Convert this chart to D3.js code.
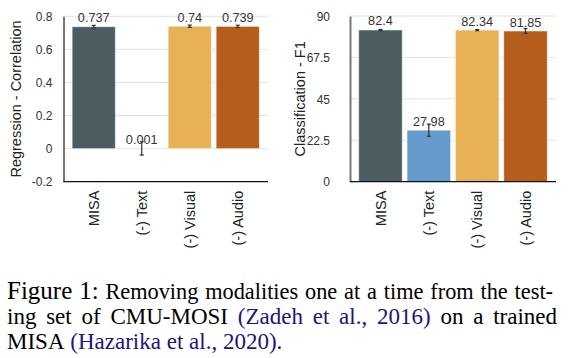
<!DOCTYPE html>
<html><head><meta charset="utf-8">
<script src="https://cdn.jsdelivr.net/npm/d3@7"></script>
<style>body{margin:0;background:#fff}svg{display:block}</style>
</head><body>
<svg id="c" width="569" height="358"></svg>
<script>
const categories = ["MISA", "(-) Text", "(-) Visual", "(-) Audio"];
const barColors = ["#4b5d61", "#6699cc", "#e9b156", "#b55d1b"];
const regValues = [0.737, 0.001, 0.74, 0.739];
const regLabels = ["0.737", "0.001", "0.74", "0.739"];
const regErrors = [0.008, 0.04, 0.007, 0.007];
const regTicks = [-0.2, 0, 0.2, 0.4, 0.6, 0.8];
const regTickLabels = ["-0.2", "0", "0.2", "0.4", "0.6", "0.8"];
const clsValues = [82.4, 27.98, 82.34, 81.85];
const clsLabels = ["82.4", "27.98", "82.34", "81.85"];
const clsErrors = [0.3, 3.3, 0.3, 1.3];
const clsTicks = [0, 22.5, 45, 67.5, 90];
const clsTickLabels = ["0", "22.5", "45", "67.5", "90"];

const svg = d3.select("#c");
const font = "'Liberation Sans', Arial, sans-serif";

function panel(o) {
  const g = svg.append("g");
  const x = d3.scaleBand().domain(categories).range([o.x0, o.x1]).paddingInner(0.1).paddingOuter(0.18);
  const y = d3.scaleLinear().domain(o.domain).range([o.yb, o.yt]);
  g.selectAll("line.grid").data(o.ticks.filter(t => t !== o.domain[0])).enter().append("line")
    .attr("x1", o.x0).attr("x2", o.x1).attr("y1", d => y(d)).attr("y2", d => y(d))
    .attr("stroke", "#e2e2e2").attr("stroke-width", 1);
  const base = y(Math.max(0, o.domain[0]));
  g.selectAll("rect.bar").data(o.values).enter().append("rect")
    .attr("x", (d, i) => x(categories[i])).attr("width", x.bandwidth())
    .attr("y", d => Math.min(y(d), base)).attr("height", d => Math.abs(base - y(d)))
    .attr("fill", (d, i) => barColors[i]).attr("stroke", "#fff").attr("stroke-opacity", 0.5).attr("stroke-width", 1);
  const eb = g.selectAll("g.err").data(o.values).enter().append("g")
    .attr("stroke", "#333").attr("stroke-width", 1.2);
  eb.append("line").attr("x1", (d, i) => x(categories[i]) + x.bandwidth() / 2).attr("x2", (d, i) => x(categories[i]) + x.bandwidth() / 2)
    .attr("y1", (d, i) => y(d - o.errors[i])).attr("y2", (d, i) => y(d + o.errors[i]));
  [-1, 1].forEach(s => {
    eb.append("line").attr("x1", (d, i) => x(categories[i]) + x.bandwidth() / 2 - 2).attr("x2", (d, i) => x(categories[i]) + x.bandwidth() / 2 + 2)
      .attr("y1", (d, i) => y(d + s * o.errors[i])).attr("y2", (d, i) => y(d + s * o.errors[i]));
  });
  g.selectAll("text.val").data(o.values).enter().append("text")
    .attr("x", (d, i) => x(categories[i]) + x.bandwidth() / 2).attr("y", d => Math.min(y(d), base) - 4.5)
    .attr("text-anchor", "middle").attr("font-family", font).attr("font-size", 12.7).attr("fill", "#333")
    .text((d, i) => o.labels[i]);
  const ya = d3.axisLeft(y).tickValues(o.ticks).tickFormat((d, i) => o.tickLabels[i]).tickSize(0).tickPadding(o.tickPad);
  const yg = g.append("g").attr("transform", `translate(${o.x0},0)`).call(ya);
  yg.select(".domain").attr("stroke", "#777").attr("stroke-width", 2);
  yg.selectAll("text").attr("font-family", font).attr("font-size", 12).attr("fill", "#333").attr("dy", "0.35em");
  const xa = d3.axisBottom(x).tickSize(0).tickPadding(0);
  const xg = g.append("g").attr("transform", `translate(0,${o.yb})`).call(xa);
  xg.select(".domain").attr("stroke", "#111").attr("stroke-width", 1.2).attr("d", `M${o.x0},0H${o.x1}`);
  xg.selectAll("text").attr("font-family", font).attr("font-size", 14.5).attr("fill", "#222")
    .attr("text-anchor", "end").attr("y", 0).attr("dy", "0.35em")
    .attr("transform", "translate(0,9) rotate(-90)");
  g.append("text").attr("transform", `translate(${o.titleX},${(o.yt + o.yb) / 2}) rotate(-90)`)
    .attr("text-anchor", "middle").attr("font-family", font).attr("font-size", 14.5).attr("fill", "#222")
    .text(o.title);
}

panel({x0: 63.5, x1: 268, yt: 16.3, yb: 181.7, domain: [-0.2, 0.8], ticks: regTicks, tickLabels: regTickLabels,
  values: regValues, labels: regLabels, errors: regErrors, tickPad: 11, titleX: 21, title: "Regression - Correlation"});
panel({x0: 350, x1: 556, yt: 16, yb: 181.7, domain: [0, 90], ticks: clsTicks, tickLabels: clsTickLabels,
  values: clsValues, labels: clsLabels, errors: clsErrors, tickPad: 20, titleX: 305, title: "Classification - F1"});

// caption
const serif = "'Liberation Serif', 'Times New Roman', serif";
const blue = "#26137a";
const B1 = 22.3, B = 23, F = 25;
const captionLines = [
  {y: 299, justify: 553, words: [["Figure", "#000", F], ["1:", "#000", F], ["Removing", "#000", B1], ["modalities", "#000", B1], ["one", "#000", B1], ["at", "#000", B1], ["a", "#000", B1], ["time", "#000", B1], ["from", "#000", B1], ["the", "#000", B1], ["test-", "#000", B1]]},
  {y: 324, justify: 557, words: [["ing", "#000", B], ["set", "#000", B], ["of", "#000", B], ["CMU-MOSI", "#000", B], ["(Zadeh", blue, B], ["et", blue, B], ["al.,", blue, B], ["2016)", blue, B], ["on", "#000", B], ["a", "#000", B], ["trained", "#000", B]]},
  {y: 349, justify: null, words: [["MISA", "#000", B], ["(Hazarika", blue, B], ["et", blue, B], ["al.,", blue, B], ["2020)", blue, B], [".", "#000", B, true]]}
];
const cap = svg.append("g");
captionLines.forEach(line => {
  const nodes = line.words.map(w => cap.append("text").attr("y", line.y).attr("font-family", serif)
    .attr("font-size", w[2]).attr("fill", w[1]).text(w[0]));
  const widths = nodes.map(n => n.node().getComputedTextLength());
  const total = d3.sum(widths);
  const x0 = 7;
  const gaps = line.words.filter((w, i) => i > 0 && !w[3]).length;
  const gap = line.justify ? Math.max(2, (line.justify - x0 - total) / gaps) : B * 0.25;
  let x = x0;
  nodes.forEach((n, i) => {
    if (i > 0 && !line.words[i][3]) x += gap;
    n.attr("x", x);
    x += widths[i];
  });
});
</script>
</body></html>
